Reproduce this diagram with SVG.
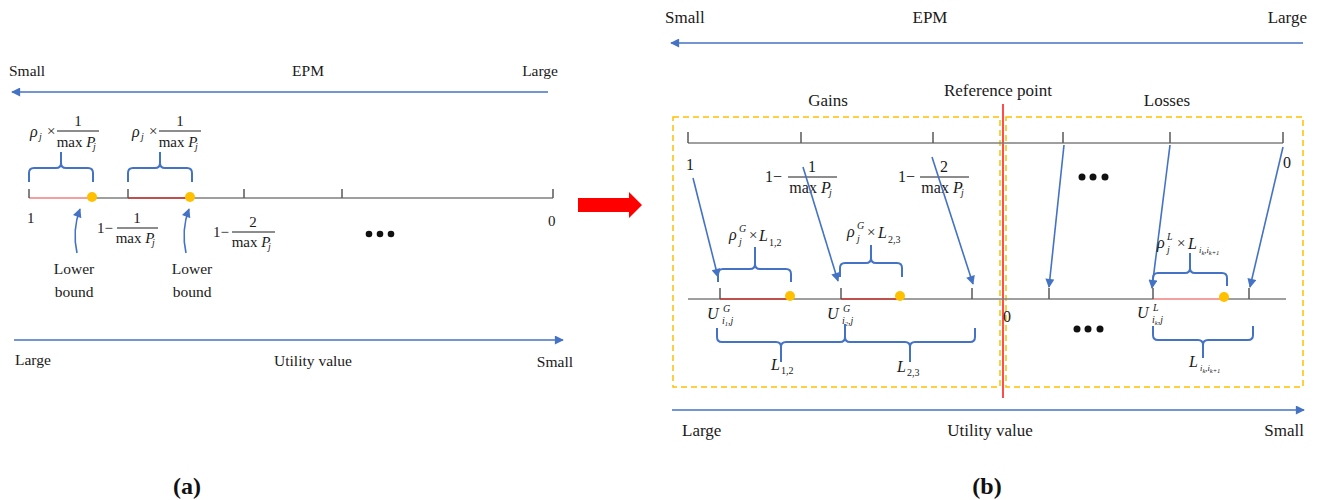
<svg xmlns="http://www.w3.org/2000/svg" width="1318" height="500" viewBox="0 0 1318 500">
  <style>
    text { font-family: "Liberation Serif", "Times New Roman", serif; fill: #1a1a1a; }
    .t15 { font-size: 15.5px; }
    .t17 { font-size: 17px; }
    .m15 { font-size: 15px; }
    .m16 { font-size: 16px; }
    .it { font-style: italic; }
    .sub { font-size: 10px; font-style: italic; }
    .tiny { font-size: 8.5px; font-style: italic; }
    .mid { text-anchor: middle; }
    .end { text-anchor: end; }
    .cap { font-size: 24px; font-weight: bold; fill: #111; }
    .axis { stroke: #7f7f7f; stroke-width: 1.5; fill: none; }
    .tick { stroke: #595959; stroke-width: 1.5; }
    .bar { stroke: #1a1a1a; stroke-width: 1; }
    .flow { stroke: #4472C4; stroke-width: 1.6; fill: none; }
    .brace { stroke: #4472C4; stroke-width: 2; fill: none; stroke-linejoin: round; }
    .seg-dark { stroke: #c0504d; stroke-width: 2; }
    .seg-light { stroke: #f4a0a0; stroke-width: 2; }
    .dot { fill: #FFC000; }
    .ell { fill: #111; }
    .zone { fill: none; stroke: #FFC000; stroke-width: 1.5; stroke-dasharray: 6 4; }
  </style>
  <defs>
    <marker id="head" viewBox="0 0 10 10" refX="9" refY="5" markerWidth="10" markerHeight="9" markerUnits="userSpaceOnUse" orient="auto">
      <path d="M0,0 L10,5 L0,10 z" fill="#4472C4"/>
    </marker>
  </defs>

  <rect width="1318" height="500" fill="#ffffff"/>

  <!-- ===== Panel (a) ===== -->
  <g id="panel-a">
    <g id="a-epm-scale">
      <text class="t15" x="9" y="76">Small</text>
      <text class="t15 mid" x="308" y="76">EPM</text>
      <text class="t15 end" x="558" y="76">Large</text>
    </g>

    <g id="a-interval-formulas">
      <text class="m16 it" x="30" y="137">ρ</text>
      <text class="sub" x="39" y="140">j</text>
      <text class="m15" x="47" y="136">×</text>
      <text class="m15 mid" x="78" y="126">1</text>
      <line class="bar" x1="57" y1="131" x2="99" y2="131"/>
      <text class="m15 mid" x="76" y="147">max <tspan class="it">P</tspan></text>
      <text class="sub" x="93" y="150">j</text>

      <text class="m16 it" x="132" y="137">ρ</text>
      <text class="sub" x="141" y="140">j</text>
      <text class="m15" x="149" y="136">×</text>
      <text class="m15 mid" x="180" y="126">1</text>
      <line class="bar" x1="159" y1="131" x2="201" y2="131"/>
      <text class="m15 mid" x="178" y="147">max <tspan class="it">P</tspan></text>
      <text class="sub" x="195" y="150">j</text>
    </g>

    <g id="a-braces">
      <path class="brace" d="M29,182 V173 Q29,168 34,168 H56 Q61,168 61,163 V152 M93,182 V173 Q93,168 88,168 H66 Q61,168 61,163"/>
      <path class="brace" d="M128,182 V173 Q128,168 133,168 H155 Q160,168 160,163 V152 M192,182 V173 Q192,168 187,168 H165 Q160,168 160,163"/>
    </g>

    <g id="a-axis">
      <line class="axis" x1="29" y1="198" x2="553" y2="198"/>
      <line class="seg-light" x1="29" y1="198" x2="92" y2="198"/>
      <line class="seg-dark" x1="128" y1="198" x2="190" y2="198"/>
      <line class="tick" x1="29" y1="198" x2="29" y2="189"/>
      <line class="tick" x1="128" y1="198" x2="128" y2="189"/>
      <line class="tick" x1="244" y1="198" x2="244" y2="189"/>
      <line class="tick" x1="342" y1="198" x2="342" y2="189"/>
      <line class="tick" x1="553" y1="198" x2="553" y2="189"/>
      <circle class="dot" cx="92" cy="197" r="5"/>
      <circle class="dot" cx="190" cy="197" r="5"/>
    </g>

    <g id="a-axis-labels">
      <text class="m15" x="27" y="223">1</text>
      <text class="m15" x="97" y="233">1−</text>
      <text class="m15 mid" x="137" y="223">1</text>
      <line class="bar" x1="117" y1="228" x2="158" y2="228"/>
      <text class="m15 mid" x="135" y="243">max <tspan class="it">P</tspan></text>
      <text class="sub" x="152" y="246">j</text>

      <text class="m15" x="213" y="237">1−</text>
      <text class="m15 mid" x="253" y="227">2</text>
      <line class="bar" x1="232" y1="232" x2="275" y2="232"/>
      <text class="m15 mid" x="251" y="247">max <tspan class="it">P</tspan></text>
      <text class="sub" x="268" y="250">j</text>

      <text class="m15" x="548" y="226">0</text>
      <circle class="ell" cx="369" cy="234" r="3.3"/>
      <circle class="ell" cx="380" cy="234" r="3.3"/>
      <circle class="ell" cx="391" cy="234" r="3.3"/>
    </g>

    <g id="a-lower-bounds">
      <path class="flow" d="M77,253 Q72,230 80,209" marker-end="url(#head)"/>
      <path class="flow" d="M186,253 Q181,230 189,209" marker-end="url(#head)"/>
      <text class="t15 mid" x="74" y="274">Lower</text>
      <text class="t15 mid" x="74" y="297">bound</text>
      <text class="t15 mid" x="192" y="274">Lower</text>
      <text class="t15 mid" x="192" y="297">bound</text>
    </g>

    <g id="a-utility-scale">
      <text class="t15" x="15" y="365">Large</text>
      <text class="t15 mid" x="313" y="366">Utility value</text>
      <text class="t15 end" x="573" y="367">Small</text>
    </g>

    <text class="cap mid" x="187" y="494">(a)</text>
  </g>

  <!-- transition arrow between panels -->
  <path id="panel-link" d="M578,198 H629 V192 L642,205 L629,218 V212 H578 z" fill="#ff0000"/>

  <!-- ===== Panel (b) ===== -->
  <g id="panel-b">
    <g id="b-epm-scale">
      <text class="t17" x="665" y="23">Small</text>
      <text class="t17 mid" x="930" y="23">EPM</text>
      <text class="t17 end" x="1307" y="23">Large</text>
    </g>

    <g id="b-regions">
      <rect class="zone" x="673" y="117" width="327" height="270"/>
      <rect class="zone" x="1006" y="117" width="297" height="270"/>
      <line x1="1003" y1="104" x2="1003" y2="398" stroke="#ff4d4d" stroke-width="2"/>
      <text class="t17 mid" x="828" y="106">Gains</text>
      <text class="t17 mid" x="998" y="96">Reference point</text>
      <text class="t17 mid" x="1167" y="106">Losses</text>
    </g>

    <g id="b-epm-axis">
      <line class="axis" x1="688" y1="143" x2="1283" y2="143"/>
      <line class="tick" x1="688" y1="143" x2="688" y2="132"/>
      <line class="tick" x1="801" y1="143" x2="801" y2="132"/>
      <line class="tick" x1="933" y1="143" x2="933" y2="132"/>
      <line class="tick" x1="1063" y1="143" x2="1063" y2="132"/>
      <line class="tick" x1="1170" y1="143" x2="1170" y2="132"/>
      <line class="tick" x1="1283" y1="143" x2="1283" y2="132"/>

      <text class="m16" x="686" y="170">1</text>
      <text class="m16" x="765" y="182">1−</text>
      <text class="m16 mid" x="812" y="172">1</text>
      <line class="bar" x1="788" y1="177" x2="837" y2="177"/>
      <text class="m16 mid" x="810" y="193">max <tspan class="it">P</tspan></text>
      <text class="sub" x="829" y="196">j</text>

      <text class="m16" x="898" y="182">1−</text>
      <text class="m16 mid" x="944" y="172">2</text>
      <line class="bar" x1="920" y1="177" x2="969" y2="177"/>
      <text class="m16 mid" x="942" y="193">max <tspan class="it">P</tspan></text>
      <text class="sub" x="961" y="196">j</text>

      <circle class="ell" cx="1082" cy="177" r="3.5"/>
      <circle class="ell" cx="1093" cy="177" r="3.5"/>
      <circle class="ell" cx="1105" cy="177" r="3.5"/>
      <text class="m16" x="1283" y="168">0</text>
    </g>

    <g id="b-connectors">
      <line class="flow" x1="693" y1="178" x2="718" y2="277" marker-end="url(#head)"/>
      <line class="flow" x1="803" y1="167" x2="838" y2="281" marker-end="url(#head)"/>
      <line class="flow" x1="932" y1="157" x2="973" y2="284" marker-end="url(#head)"/>
      <line class="flow" x1="1064" y1="145" x2="1049" y2="287" marker-end="url(#head)"/>
      <line class="flow" x1="1170" y1="145" x2="1152" y2="288" marker-end="url(#head)"/>
      <line class="flow" x1="1283" y1="147" x2="1250" y2="287" marker-end="url(#head)"/>
    </g>

    <g id="b-utility-axis">
      <line class="axis" x1="688" y1="299" x2="1286" y2="299"/>
      <line class="seg-dark" x1="720" y1="299" x2="789" y2="299"/>
      <line class="seg-dark" x1="841" y1="299" x2="899" y2="299"/>
      <line class="seg-light" x1="1153" y1="299" x2="1223" y2="299"/>
      <line class="tick" x1="720" y1="299" x2="720" y2="288"/>
      <line class="tick" x1="841" y1="299" x2="841" y2="288"/>
      <line class="tick" x1="972" y1="299" x2="972" y2="288"/>
      <line class="tick" x1="1049" y1="299" x2="1049" y2="288"/>
      <line class="tick" x1="1153" y1="299" x2="1153" y2="288"/>
      <line class="tick" x1="1249" y1="299" x2="1249" y2="288"/>
      <circle class="dot" cx="790" cy="296" r="5"/>
      <circle class="dot" cx="900" cy="296" r="5"/>
      <circle class="dot" cx="1224" cy="297" r="5"/>
    </g>

    <g id="b-upper-braces">
      <path class="brace" d="M718,282 V274 Q718,269 723,269 H750 Q755,269 755,264 V247 M791,282 V274 Q791,269 786,269 H760 Q755,269 755,264"/>
      <path class="brace" d="M840,277 V268 Q840,263 845,263 H866 Q871,263 871,258 V245 M902,277 V268 Q902,263 897,263 H876 Q871,263 871,258"/>
      <path class="brace" d="M1153,286 V278 Q1153,273 1158,273 H1185 Q1190,273 1190,268 V253 M1227,286 V278 Q1227,273 1222,273 H1195 Q1190,273 1190,268"/>

      <text class="m16 it" x="729" y="240">ρ</text>
      <text class="sub" x="739" y="232">G</text>
      <text class="sub" x="739" y="245">j</text>
      <text class="m15" x="749" y="240">×</text>
      <text class="m16 it" x="759" y="241">L</text>
      <text class="sub" x="769" y="246" style="font-style:normal">1,2</text>

      <text class="m16 it" x="847" y="237">ρ</text>
      <text class="sub" x="857" y="229">G</text>
      <text class="sub" x="857" y="242">j</text>
      <text class="m15" x="867" y="237">×</text>
      <text class="m16 it" x="878" y="238">L</text>
      <text class="sub" x="888" y="243" style="font-style:normal">2,3</text>

      <text class="m16 it" x="1157" y="248">ρ</text>
      <text class="sub" x="1167" y="240">L</text>
      <text class="sub" x="1167" y="253">j</text>
      <text class="m15" x="1177" y="248">×</text>
      <text class="m16 it" x="1188" y="249">L</text>
      <text class="tiny" x="1199" y="253">i<tspan font-size="6.5" dy="1.5">k</tspan><tspan dy="-1.5">,i</tspan><tspan font-size="6.5" dy="1.5">k+1</tspan></text>
    </g>

    <g id="b-utility-labels">
      <text class="m16 it" x="707" y="319">U</text>
      <text class="sub" x="723" y="312">G</text>
      <text class="sub" x="722" y="324">i<tspan font-size="6.5" dy="2">1</tspan><tspan dy="-2">,j</tspan></text>

      <text class="m16 it" x="827" y="319">U</text>
      <text class="sub" x="843" y="312">G</text>
      <text class="sub" x="842" y="324">i<tspan font-size="6.5" dy="2">2</tspan><tspan dy="-2">,j</tspan></text>

      <text class="m16" x="1003" y="322">0</text>
      <circle class="ell" cx="1077" cy="329" r="3.5"/>
      <circle class="ell" cx="1088" cy="329" r="3.5"/>
      <circle class="ell" cx="1100" cy="329" r="3.5"/>

      <text class="m16 it" x="1137" y="318">U</text>
      <text class="sub" x="1153" y="311">L</text>
      <text class="sub" x="1152" y="323">i<tspan font-size="6.5" dy="2">k</tspan><tspan dy="-2">,j</tspan></text>
    </g>

    <g id="b-lower-braces">
      <path class="brace" d="M717,328 V337 Q717,342 722,342 H776 Q781,342 781,347 V362 M845,324 V337 Q845,342 840,342 H786 Q781,342 781,347"/>
      <path class="brace" d="M845,337 Q845,342 850,342 H905 Q910,342 910,347 V362 M975,328 V337 Q975,342 970,342 H915 Q910,342 910,347"/>
      <path class="brace" d="M1153,326 V335 Q1153,340 1158,340 H1198 Q1203,340 1203,345 V358 M1253,326 V335 Q1253,340 1248,340 H1208 Q1203,340 1203,345"/>

      <text class="m16 it" x="771" y="370">L</text>
      <text class="sub" x="781" y="374" style="font-style:normal">1,2</text>
      <text class="m16 it" x="897" y="372">L</text>
      <text class="sub" x="907" y="376" style="font-style:normal">2,3</text>
      <text class="m16 it" x="1189" y="367">L</text>
      <text class="tiny" x="1200" y="371">i<tspan font-size="6.5" dy="1.5">k</tspan><tspan dy="-1.5">,i</tspan><tspan font-size="6.5" dy="1.5">k+1</tspan></text>
    </g>

    <g id="b-utility-scale">
      <text class="t17" x="682" y="436">Large</text>
      <text class="t17 mid" x="990" y="436">Utility value</text>
      <text class="t17 end" x="1304" y="436">Small</text>
    </g>

    <text class="cap mid" x="987" y="494">(b)</text>
  </g>

  <!-- scale arrows -->
  <g id="scale-arrows">
    <line class="flow" x1="548" y1="92" x2="12" y2="92" marker-end="url(#head)"/>
    <line class="flow" x1="14" y1="340" x2="563" y2="340" marker-end="url(#head)"/>
    <line class="flow" x1="1303" y1="43" x2="671" y2="43" marker-end="url(#head)"/>
    <line class="flow" x1="672" y1="410" x2="1304" y2="410" marker-end="url(#head)"/>
  </g>
</svg>
